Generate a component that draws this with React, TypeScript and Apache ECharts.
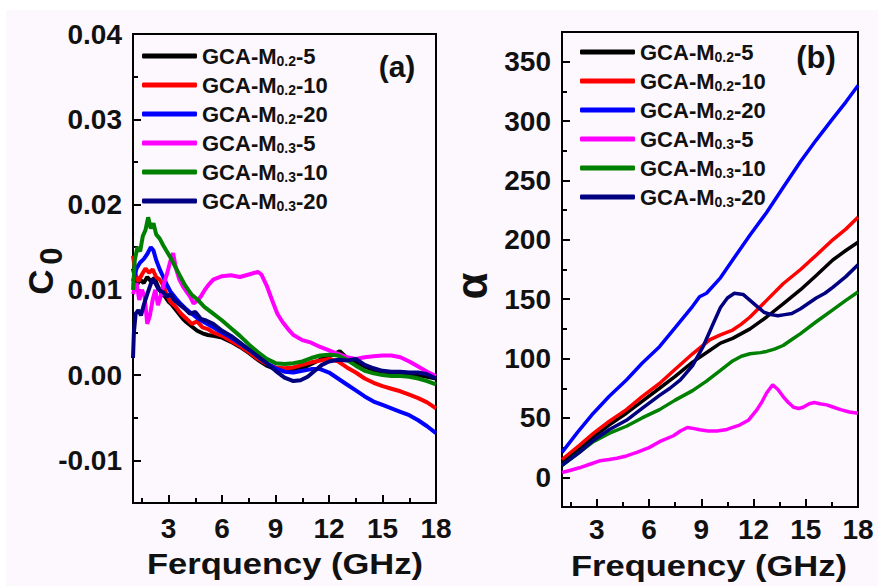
import React, { useEffect, useRef } from "react";
import * as echarts from "echarts";

const FONT = "Liberation Sans, Arial, Helvetica, sans-serif";

const seriesNames = [
  "GCA-M0.2-5",
  "GCA-M0.2-10",
  "GCA-M0.2-20",
  "GCA-M0.3-5",
  "GCA-M0.3-10",
  "GCA-M0.3-20",
];
const seriesColors = ["#000000", "#ff0000", "#0000ff", "#ff00ff", "#008000", "#000080"];

const xTicks = [3, 6, 9, 12, 15, 18];
const xMinorTicks = [1.5, 4.5, 7.5, 10.5, 13.5, 16.5];
const yTicksA = [-0.01, 0, 0.01, 0.02, 0.03, 0.04];
const yMinorTicksA = [-0.015, -0.005, 0.005, 0.015, 0.025, 0.035];
const yTicksB = [0, 50, 100, 150, 200, 250, 300, 350];
const yMinorTicksB = [-25, 25, 75, 125, 175, 225, 275, 325];

// Panel (a): C0 vs frequency (GHz)
const c0_M02_5 = [[1.0,0.0125],[1.2,0.0105],[1.4,0.0112],[1.6,0.0108],[1.8,0.0115],[2.0,0.0110],[2.2,0.0114],[2.4,0.0104],[2.6,0.0096],[2.8,0.0092],[3.0,0.0086],[3.2,0.0082],[3.5,0.0074],[3.8,0.0066],[4.0,0.0062],[4.3,0.0057],[4.6,0.0052],[4.9,0.0049],[5.2,0.0047],[5.5,0.0046],[6.0,0.0044],[6.5,0.0039],[7.0,0.0033],[7.5,0.0026],[8.0,0.0018],[8.5,0.0011],[9.0,0.0007],[9.5,0.0005],[10.0,0.0005],[10.5,0.0008],[11.0,0.0013],[11.5,0.0018],[12.0,0.0022],[12.6,0.0028],[13.0,0.0020],[13.5,0.0015],[14.0,0.0010],[14.5,0.0006],[15.0,0.0004],[15.5,0.0003],[16.0,0.0002],[16.5,0.0001],[17.0,0.0],[17.5,-0.0002],[18.0,-0.0004]];
const c0_M02_10 = [[1.0,0.0140],[1.15,0.0118],[1.3,0.0110],[1.5,0.0118],[1.7,0.0125],[1.9,0.0120],[2.1,0.0124],[2.3,0.0115],[2.5,0.0112],[2.7,0.0105],[2.9,0.0094],[3.1,0.0086],[3.4,0.0080],[3.7,0.0072],[4.0,0.0066],[4.3,0.0060],[4.6,0.0063],[4.9,0.0056],[5.2,0.0054],[5.5,0.0050],[6.0,0.0046],[6.5,0.0040],[7.0,0.0034],[7.5,0.0027],[8.0,0.0019],[8.5,0.0013],[9.0,0.0009],[9.5,0.0008],[10.0,0.0009],[10.5,0.0012],[11.0,0.0015],[11.5,0.0017],[12.0,0.0019],[12.5,0.0016],[13.0,0.0009],[13.5,0.0003],[14.0,-0.0004],[14.5,-0.0009],[15.0,-0.0013],[15.5,-0.0016],[16.0,-0.0019],[16.5,-0.0023],[17.0,-0.0027],[17.5,-0.0032],[18.0,-0.0039]];
const c0_M02_20 = [[1.0,0.0110],[1.2,0.0125],[1.4,0.0132],[1.6,0.0136],[1.8,0.0142],[2.0,0.0150],[2.15,0.0146],[2.3,0.0135],[2.5,0.0124],[2.7,0.0115],[2.9,0.0106],[3.1,0.0098],[3.4,0.0090],[3.7,0.0083],[4.0,0.0077],[4.3,0.0072],[4.6,0.0067],[5.0,0.0062],[5.5,0.0056],[6.0,0.0050],[6.5,0.0044],[7.0,0.0037],[7.5,0.0030],[8.0,0.0022],[8.5,0.0014],[9.0,0.0008],[9.5,0.0004],[10.0,0.0003],[10.5,0.0005],[11.0,0.0007],[11.5,0.0007],[12.0,0.0003],[12.5,-0.0004],[13.0,-0.0011],[13.5,-0.0018],[14.0,-0.0025],[14.5,-0.0031],[15.0,-0.0035],[15.5,-0.0039],[16.0,-0.0043],[16.5,-0.0047],[17.0,-0.0053],[17.5,-0.0060],[18.0,-0.0068]];
const c0_M03_5 = [[1.0,0.0095],[1.2,0.0108],[1.35,0.0088],[1.5,0.0100],[1.65,0.0092],[1.8,0.0060],[1.95,0.0070],[2.1,0.0088],[2.25,0.0100],[2.4,0.0082],[2.55,0.0092],[2.7,0.0105],[2.9,0.0118],[3.1,0.0134],[3.25,0.0143],[3.4,0.0126],[3.6,0.0112],[3.8,0.0104],[4.0,0.0098],[4.2,0.0092],[4.4,0.0084],[4.6,0.0087],[4.8,0.0092],[5.0,0.0099],[5.2,0.0105],[5.5,0.0112],[6.0,0.0116],[6.5,0.0117],[7.0,0.0115],[7.5,0.0118],[8.0,0.0121],[8.2,0.0118],[8.5,0.0105],[8.8,0.0088],[9.1,0.0072],[9.4,0.0062],[9.7,0.0054],[10.0,0.0047],[10.5,0.0041],[11.0,0.0038],[11.5,0.0033],[12.0,0.0029],[12.5,0.0025],[13.0,0.0021],[13.5,0.0019],[14.0,0.0021],[14.5,0.0022],[15.0,0.0023],[15.5,0.0023],[16.0,0.0021],[16.5,0.0016],[17.0,0.0010],[17.5,0.0004],[18.0,-0.0001]];
const c0_M03_10 = [[1.0,0.0100],[1.1,0.0135],[1.25,0.0150],[1.4,0.0145],[1.55,0.0163],[1.7,0.0170],[1.85,0.0185],[2.0,0.0172],[2.15,0.0178],[2.3,0.0165],[2.5,0.0160],[2.7,0.0152],[2.9,0.0145],[3.1,0.0138],[3.3,0.0130],[3.5,0.0122],[3.7,0.0114],[3.9,0.0106],[4.1,0.0100],[4.3,0.0094],[4.6,0.0089],[5.0,0.0080],[5.5,0.0072],[6.0,0.0064],[6.5,0.0055],[7.0,0.0046],[7.5,0.0036],[8.0,0.0027],[8.5,0.0019],[9.0,0.0014],[9.5,0.0013],[10.0,0.0014],[10.5,0.0016],[11.0,0.0020],[11.5,0.0023],[12.0,0.0024],[12.5,0.0023],[13.0,0.0018],[13.5,0.0011],[14.0,0.0005],[14.5,0.0002],[15.0,0.0000],[15.5,-0.0001],[16.0,-0.0001],[16.5,-0.0002],[17.0,-0.0004],[17.5,-0.0007],[18.0,-0.0011]];
const c0_M03_20 = [[1.0,0.0020],[1.05,0.0050],[1.15,0.0072],[1.3,0.0076],[1.45,0.0070],[1.6,0.0082],[1.8,0.0095],[1.95,0.0104],[2.1,0.0113],[2.25,0.0108],[2.45,0.0100],[2.7,0.0097],[2.9,0.0092],[3.1,0.0095],[3.3,0.0088],[3.6,0.0083],[3.9,0.0078],[4.2,0.0072],[4.5,0.0074],[4.8,0.0066],[5.1,0.0064],[5.5,0.0060],[6.0,0.0052],[6.5,0.0046],[7.0,0.0038],[7.5,0.0030],[8.0,0.0022],[8.5,0.0014],[9.0,0.0005],[9.5,-0.0003],[10.0,-0.0007],[10.4,-0.0006],[10.8,-0.0002],[11.2,0.0005],[11.6,0.0012],[12.0,0.0016],[12.5,0.0018],[13.0,0.0017],[13.5,0.0019],[14.0,0.0012],[14.5,0.0008],[15.0,0.0005],[15.5,0.0004],[16.0,0.0004],[16.5,0.0003],[17.0,0.0003],[17.5,0.0001],[18.0,-0.0004]];

// Panel (b): alpha vs frequency (GHz)
const alpha_M02_5 = [[1,13],[2,24],[2.8,34],[3.7,44],[4.7,54],[5.6,64],[6.6,75],[7.5,85],[8.5,97],[9.5,107],[10.1,113],[10.8,117],[11.8,125],[12.75,135],[13.7,146],[14.7,158],[15.6,170],[16.55,183],[17.3,191],[18,198]];
const alpha_M02_10 = [[1,15],[2,27],[2.8,37],[3.7,47],[4.7,57],[5.6,68],[6.6,79],[7.5,91],[8.5,104],[9.5,116],[10.1,120],[10.8,124],[11.3,129],[11.8,135],[12.75,149],[13.7,163],[14.7,175],[15.6,187],[16.55,200],[17.3,209],[18,219]];
const alpha_M02_20 = [[1,21],[1.9,38],[2.8,54],[3.7,68],[4.7,82],[5.6,96],[6.6,110],[7.5,126],[8.5,144],[8.9,152],[9.3,155],[10.1,168],[10.8,183],[11.8,204],[12.75,223],[13.7,244],[14.7,266],[15.6,284],[16.55,302],[17.3,316],[18,330]];
const alpha_M03_5 = [[1,4],[1.5,6],[2,8],[2.6,11],[3.2,14],[3.7,15],[4.15,16],[4.7,18],[5.3,21],[6,25],[6.6,30],[7.4,35],[7.8,39],[8.2,42],[8.6,41],[8.9,40],[9.4,39],[9.9,39],[10.4,40],[10.8,42],[11.2,44],[11.7,48],[12.2,57],[12.5,64],[12.75,71],[13.1,78],[13.4,74],[13.7,68],[14.0,63],[14.3,59],[14.6,58],[14.85,59],[15.2,62],[15.5,63],[15.8,62],[16.2,61],[16.6,59],[17,57],[17.5,55],[18,54]];
const alpha_M03_10 = [[1,10],[2,21],[2.8,30],[3.7,37],[4.7,43],[5.6,50],[6.6,57],[7.5,65],[8.5,73],[9.3,81],[10.1,90],[10.8,98],[11.3,102],[11.8,104],[12.4,105],[12.75,106],[13.2,108],[13.7,111],[14.2,116],[14.7,121],[15.6,131],[16.55,141],[17.3,149],[18,156]];
const alpha_M03_20 = [[1,10],[2,21],[2.8,31],[3.7,40],[4.7,48],[5.6,58],[6.6,69],[7.2,75],[7.8,82],[8.5,94],[9.1,110],[9.7,130],[10.1,143],[10.5,151],[10.9,155],[11.4,154],[11.8,149],[12.2,144],[12.6,139],[13,137],[13.4,136],[13.8,137],[14.2,138],[14.7,142],[15.2,147],[15.6,151],[16.1,155],[16.55,160],[17.3,169],[18,179]];

const dataA = [c0_M02_5, c0_M02_10, c0_M02_20, c0_M03_5, c0_M03_10, c0_M03_20];
const dataB = [alpha_M02_5, alpha_M02_10, alpha_M02_20, alpha_M03_5, alpha_M03_10, alpha_M03_20];

const TXT = "#111111";

function mainX(gridIndex: number, margin: number) {
  return {
    type: "value",
    gridIndex,
    position: "bottom",
    min: 1,
    max: 18,
    axisLine: { show: true, onZero: false, lineStyle: { color: "#000", width: 2 } },
    axisTick: { show: true, inside: true, length: 8, lineStyle: { color: "#000", width: 2 }, customValues: xTicks },
    axisLabel: { customValues: xTicks, margin, fontSize: 28, fontWeight: "bold", color: TXT, fontFamily: FONT },
    splitLine: { show: false },
  };
}
function minorX(gridIndex: number) {
  return {
    type: "value",
    gridIndex,
    position: "bottom",
    min: 1,
    max: 18,
    axisLine: { show: false, onZero: false },
    axisTick: { show: true, inside: true, length: 5, lineStyle: { color: "#000", width: 2 }, customValues: xMinorTicks },
    axisLabel: { show: false },
    splitLine: { show: false },
  };
}
function mainY(gridIndex: number, min: number, max: number, ticks: number[], fmt: (v: number) => string) {
  return {
    type: "value",
    gridIndex,
    position: "left",
    min,
    max,
    axisLine: { show: true, onZero: false, lineStyle: { color: "#000", width: 2 } },
    axisTick: { show: true, inside: true, length: 8, lineStyle: { color: "#000", width: 2 }, customValues: ticks },
    axisLabel: { customValues: ticks, margin: 11, fontSize: 28, fontWeight: "bold", color: TXT, fontFamily: FONT, formatter: fmt },
    splitLine: { show: false },
  };
}
function minorY(gridIndex: number, min: number, max: number, ticks: number[]) {
  return {
    type: "value",
    gridIndex,
    position: "left",
    min,
    max,
    axisLine: { show: false, onZero: false },
    axisTick: { show: true, inside: true, length: 5, lineStyle: { color: "#000", width: 2 }, customValues: ticks },
    axisLabel: { show: false },
    splitLine: { show: false },
  };
}

function legendFormatter(name: string) {
  const m = name.match(/^GCA-M(0\.\d)-(\d+)$/);
  if (!m) return name;
  return `{m|GCA-M}{s|${m[1]}}{m|-${m[2]}}`;
}
const legendRich = {
  m: { fontSize: 22, fontWeight: "bold", color: TXT, fontFamily: FONT, lineHeight: 24 },
  s: { fontSize: 14, fontWeight: "bold", color: TXT, fontFamily: FONT, lineHeight: 14, verticalAlign: "bottom" },
};
function legendAt(left: number, top: number) {
  return {
    data: seriesNames.map((name) => ({ name, icon: "roundRect" })),
    orient: "vertical",
    left,
    top,
    padding: 0,
    itemWidth: 55,
    itemHeight: 5,
    itemGap: 6,
    selectedMode: false,
    formatter: legendFormatter,
    textStyle: { rich: legendRich },
  };
}

export default function App() {
  const ref = useRef<HTMLDivElement>(null);
  useEffect(() => {
    if (!ref.current) return;
    const chart = echarts.init(ref.current, undefined, { renderer: "svg" });
    const series: any[] = [];
    seriesNames.forEach((name, i) => {
      series.push({
        name,
        type: "line",
        xAxisIndex: 0,
        yAxisIndex: 0,
        data: dataA[i],
        symbol: "none",
        showSymbol: false,
        lineStyle: { color: seriesColors[i], width: 4 },
        itemStyle: { color: seriesColors[i] },
        z: 2 + i,
      });
    });
    seriesNames.forEach((name, i) => {
      series.push({
        name,
        type: "line",
        xAxisIndex: 2,
        yAxisIndex: 2,
        data: dataB[i],
        symbol: "none",
        showSymbol: false,
        lineStyle: { color: seriesColors[i], width: 3.5 },
        itemStyle: { color: seriesColors[i] },
        z: 2 + i,
      });
    });
    const option: any = {
      animation: false,
      backgroundColor: "#fdf8fd",
      grid: [
        { left: 133, top: 34, width: 303, height: 469, show: true, borderColor: "#000", borderWidth: 2, backgroundColor: "transparent" },
        { left: 562, top: 32, width: 296, height: 475, show: true, borderColor: "#000", borderWidth: 2, backgroundColor: "transparent" },
      ],
      xAxis: [mainX(0, 11), minorX(0), mainX(1, 8), minorX(1)],
      yAxis: [
        mainY(0, -0.015, 0.04, yTicksA, (v: number) => v.toFixed(2)),
        minorY(0, -0.015, 0.04, yMinorTicksA),
        mainY(1, -25, 375, yTicksB, (v: number) => String(Math.round(v))),
        minorY(1, -25, 375, yMinorTicksB),
      ],
      legend: [legendAt(142, 45), legendAt(580, 41)],
      series,
      graphic: [
        { type: "rect", shape: { x: 0, y: 0, width: 878, height: 10 }, style: { fill: "#ffffff" }, silent: true },
        { type: "rect", shape: { x: 0, y: 0, width: 6, height: 586 }, style: { fill: "#ffffff" }, silent: true },
        {
          type: "text", x: 285, y: 564, scaleX: 1.15,
          style: { text: "Ferquency (GHz)", x: 0, y: 0, align: "center", verticalAlign: "middle", fontSize: 30, fontWeight: "bold", fill: TXT, fontFamily: FONT },
        },
        {
          type: "text", x: 709, y: 566, scaleX: 1.15,
          style: { text: "Frequency (GHz)", x: 0, y: 0, align: "center", verticalAlign: "middle", fontSize: 30, fontWeight: "bold", fill: TXT, fontFamily: FONT },
        },
        {
          type: "text", x: 40, y: 282, rotation: Math.PI / 2,
          style: { text: "C", x: 0, y: 0, align: "center", verticalAlign: "middle", fontSize: 35, fontWeight: "bold", fill: TXT, fontFamily: FONT },
        },
        {
          type: "text", x: 51, y: 256, rotation: Math.PI / 2,
          style: { text: "0", x: 0, y: 0, align: "center", verticalAlign: "middle", fontSize: 31, fontWeight: "bold", fill: TXT, fontFamily: FONT },
        },
        {
          type: "text", x: 471, y: 286, rotation: Math.PI / 2,
          style: { text: "α", x: 0, y: 0, align: "center", verticalAlign: "middle", fontSize: 44, fontWeight: "bold", fill: TXT, fontFamily: FONT },
        },
        {
          type: "text", x: 397, y: 66,
          style: { text: "(a)", x: 0, y: 0, align: "center", verticalAlign: "middle", fontSize: 30, fontWeight: "bold", fill: TXT, fontFamily: FONT },
        },
        {
          type: "text", x: 816, y: 57,
          style: { text: "(b)", x: 0, y: 0, align: "center", verticalAlign: "middle", fontSize: 31, fontWeight: "bold", fill: TXT, fontFamily: FONT },
        },
      ],
    };
    chart.setOption(option);
    return () => chart.dispose();
  }, []);
  return <div ref={ref} style={{ position: "fixed", left: 0, top: 0, width: 878, height: 586 }} />;
}
